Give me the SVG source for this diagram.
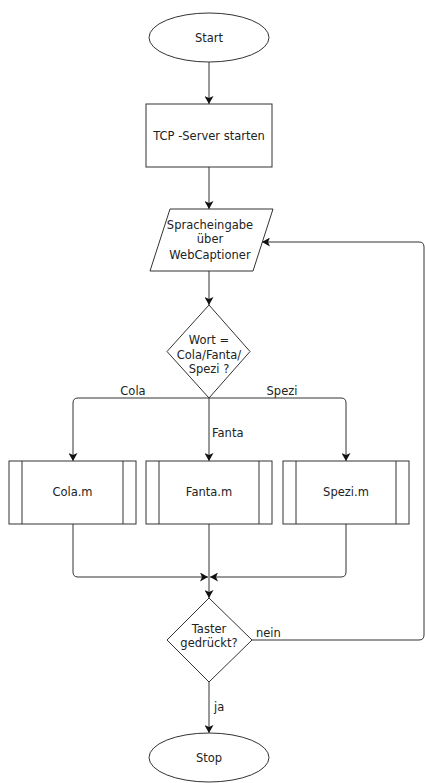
<svg xmlns="http://www.w3.org/2000/svg" width="425" height="783" viewBox="0 0 425 783">
<style>
.s{fill:#fff;stroke:#333;stroke-width:1}
.c{fill:none;stroke:#333;stroke-width:1}
.t{font-family:"DejaVu Sans",Verdana,sans-serif;font-size:11.5px;fill:#222;text-anchor:middle}
.l{font-family:"DejaVu Sans",Verdana,sans-serif;font-size:11.5px;fill:#222}
</style>
<defs>
<marker id="a" viewBox="0 0 8 9" refX="8" refY="4.5" markerWidth="8" markerHeight="9" markerUnits="userSpaceOnUse" orient="auto">
<path d="M0,0 L8,4.5 L0,9 L2,4.5 z" fill="#111"/>
</marker>
</defs>
<g id="connectors">
<path class="c" d="M209,62 L209,104" marker-end="url(#a)"/>
<path class="c" d="M209,167 L209,209" marker-end="url(#a)"/>
<path class="c" d="M209,271 L209,305" marker-end="url(#a)"/>
<path class="c" d="M209,398 L78,398 Q73,398 73,403 L73,461" marker-end="url(#a)"/>
<path class="c" d="M209,398 L209,461" marker-end="url(#a)"/>
<path class="c" d="M209,398 L341,398 Q346,398 346,403 L346,461" marker-end="url(#a)"/>
<path class="c" d="M73,524 L73,572 Q73,577 78,577 L208,577" marker-end="url(#a)"/>
<path class="c" d="M346,524 L346,572 Q346,577 341,577 L210,577" marker-end="url(#a)"/>
<path class="c" d="M209,524 L209,598" marker-end="url(#a)"/>
<path class="c" d="M209,682 L209,733" marker-end="url(#a)"/>
<path class="c" d="M252,640 L419,640 Q424,640 424,635 L424,247 Q424,242 419,242 L262,242" marker-end="url(#a)"/>
<text class="t" x="133" y="395">Cola</text>
<text class="t" x="282" y="395">Spezi</text>
<text class="l" x="212" y="437">Fanta</text>
<text class="l" x="256" y="637">nein</text>
<text class="l" x="214" y="711">ja</text>
</g>
<g id="start">
<ellipse class="s" cx="209" cy="37.5" rx="60" ry="24.5"/>
<text class="t" x="209" y="41.5">Start</text>
</g>
<g id="tcp">
<rect class="s" x="146" y="104" width="126" height="63"/>
<text class="t" x="209" y="140">TCP -Server starten</text>
</g>
<g id="input">
<path class="s" d="M170,209 L273,209 L253,271 L150,271 Z"/>
<text class="t" x="210" y="229">Spracheingabe</text>
<text class="t" x="210" y="243">über</text>
<text class="t" x="210" y="259">WebCaptioner</text>
</g>
<g id="decision1">
<path class="s" d="M209,305 L250,351.5 L209,398 L167,351.5 Z"/>
<text class="t" x="209" y="344">Wort =</text>
<text class="t" x="209" y="359">Cola/Fanta/</text>
<text class="t" x="209" y="373">Spezi ?</text>
</g>
<g id="cola">
<rect class="s" x="9" y="461" width="127" height="63"/>
<path class="c" d="M22,461 V524 M123,461 V524"/>
<text class="t" x="72.5" y="496">Cola.m</text>
</g>
<g id="fanta">
<rect class="s" x="146" y="461" width="126" height="63"/>
<path class="c" d="M159,461 V524 M259,461 V524"/>
<text class="t" x="209" y="496">Fanta.m</text>
</g>
<g id="spezi">
<rect class="s" x="283" y="461" width="126" height="63"/>
<path class="c" d="M296,461 V524 M396,461 V524"/>
<text class="t" x="346" y="496">Spezi.m</text>
</g>
<g id="decision2">
<path class="s" d="M209,598 L252,640 L209,682 L167,640 Z"/>
<text class="t" x="209" y="633">Taster</text>
<text class="t" x="209" y="647">gedrückt?</text>
</g>
<g id="stop">
<ellipse class="s" cx="209" cy="757.5" rx="60" ry="24.5"/>
<text class="t" x="209" y="762">Stop</text>
</g>
</svg>
